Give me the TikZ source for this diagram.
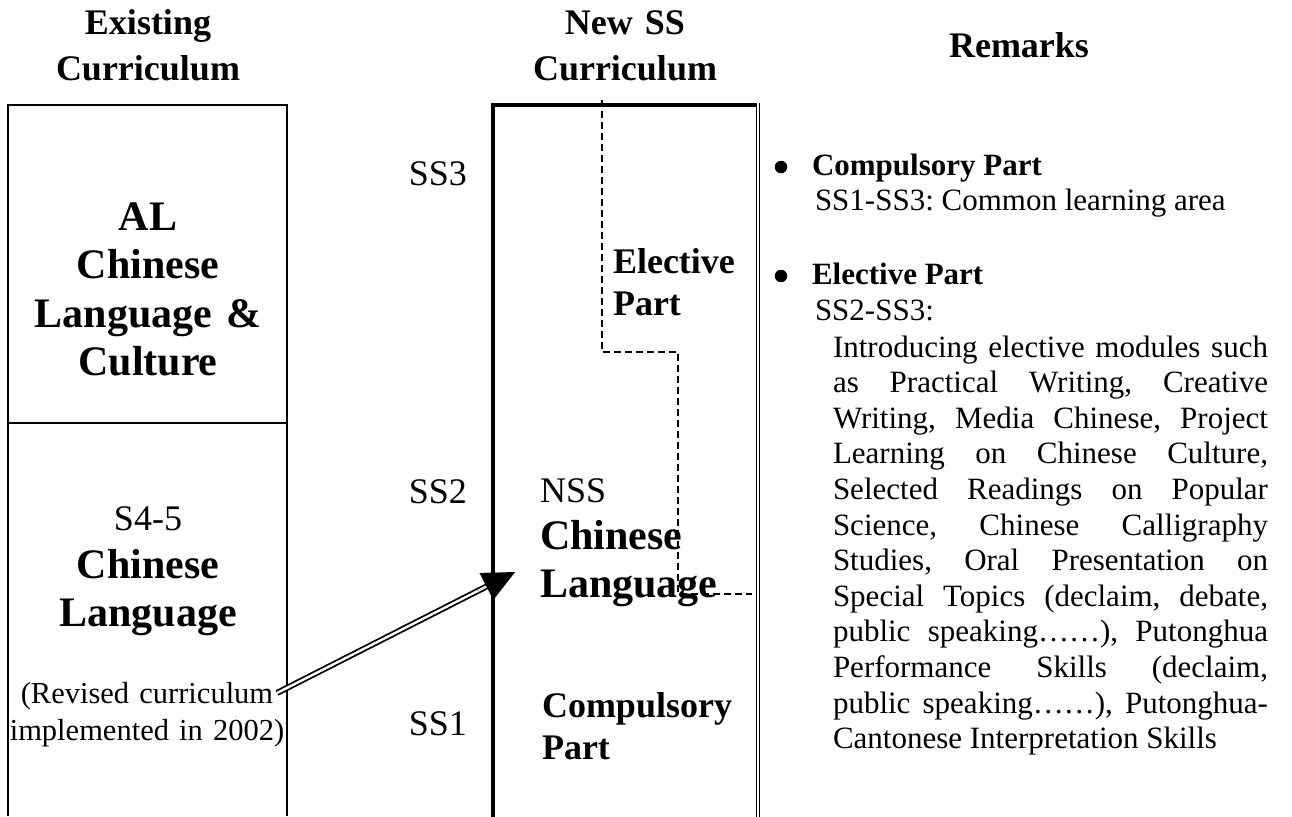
\documentclass[tikz,border=0pt]{standalone}
\usepackage{fontspec}
\setmainfont{Liberation Serif}
\usetikzlibrary{arrows.meta}
\tolerance=10000
\hyphenpenalty=10000
\frenchspacing
\begin{document}
\begin{tikzpicture}[x=1pt,y=-1pt,
  every node/.style={inner sep=0pt, outer sep=0pt},
  hdr/.style={font=\fontsize{36}{45}\selectfont\bfseries, align=center, text width=280pt, anchor=base},
  bigb/.style={font=\fontsize{42}{48.5}\selectfont\bfseries},
  midb/.style={font=\fontsize{36}{42}\selectfont\bfseries},
  reg/.style={font=\fontsize{36}{41}\selectfont},
  rem/.style={font=\fontsize{31}{35.6}\selectfont},
  remb/.style={font=\fontsize{31}{35.6}\selectfont\bfseries},
  bul/.style={circle, fill=black, minimum size=12.5pt},
  frame/.style={line width=2pt},
  heavy/.style={line width=4pt, line cap=rect},
  dline/.style={draw, double, double distance=2.4pt, line width=1.8pt},
  dashline/.style={line width=1.5pt, dash pattern=on 7pt off 4pt}
]
\useasboundingbox (0,0) rectangle (1292,816);
% headers
\node[hdr] (hL) at (148,35) {Existing\\Curriculum};
\node[hdr] (hM) at (625,35) {New SS\\Curriculum};
\node[hdr] (hR) at (1019,58) {Remarks};
% left column frame
\draw[frame] (8,816) -- (8,105) -- (287,105) -- (287,816);
\draw[frame] (8,423) -- (287,423);
\node[bigb, align=center, text width=279pt, anchor=base] (al) at (148,230) {AL\\Chinese\\Language \&\\Culture};
\node[reg, anchor=base] (s45) at (148,530) {S4-5};
\node[bigb, align=center, text width=279pt, anchor=base] (cl) at (148,578) {Chinese\\Language};
\node[font=\fontsize{30.5}{37}\selectfont, align=center, text width=279pt, anchor=base] (rev) at (147,703) {(Revised curriculum\\implemented in 2002)};
% SS labels
\node[reg, anchor=base east] (ss3) at (467,185) {SS3};
\node[reg, anchor=base east] (ss2) at (467,503) {SS2};
\node[reg, anchor=base east] (ss1) at (467,735) {SS1};
% middle column frame
\draw[heavy] (493,818) -- (493,105) -- (755,105);
\draw[double, double distance=2pt, line width=1.2pt] (758,103) -- (758,818);
% middle texts
\node[midb, align=left, text width=140pt, anchor=base west] (elec) at (613,273) {Elective\\Part};
\node[reg, anchor=base west] (nss) at (540,502) {NSS};
\node[bigb, align=left, text width=200pt, anchor=base west] (ncl) at (540,549) {Chinese\\Language};
\node[midb, align=left, text width=200pt, anchor=base west] (comp) at (542,717) {Compulsory\\Part};
% dashed boundary
\draw[dashline] (602,100) -- (602,352) -- (678,352) -- (678,594) -- (752,594);
% arrow
\coordinate (aStart) at (277,693);
\coordinate (aTip) at (515,572);
\draw[dline, shorten >=29pt] (aStart) -- (aTip);
\draw[line width=0.01pt, -{Triangle[length=32pt,width=30pt]}, shorten <=225pt] (aStart) -- (aTip);
% remarks
\node[bul] (b1) at (781,167) {};
\node[remb, anchor=base west] (r1) at (812,175) {Compulsory Part};
\node[rem, anchor=base west] (r1t) at (815,210) {SS1-SS3: Common learning area};
\node[bul] (b2) at (781,276) {};
\node[remb, anchor=base west] (r2) at (812,284) {Elective Part};
\node[rem, anchor=base west] (r2t) at (815,320) {SS2-SS3:};
\node[rem, align=justify, text width=435pt, anchor=base west] (par) at (833,357) {\noindent Introducing elective modules such\linebreak
as Practical Writing, Creative\linebreak
Writing, Media Chinese, Project\linebreak
Learning on Chinese Culture,\linebreak
Selected Readings on Popular\linebreak
Science, Chinese Calligraphy\linebreak
Studies, Oral Presentation on\linebreak
Special Topics (declaim, debate,\linebreak
public speaking……), Putonghua\linebreak
Performance Skills (declaim,\linebreak
public speaking……), Putonghua-\linebreak
Cantonese Interpretation Skills};
\end{tikzpicture}
\end{document}
